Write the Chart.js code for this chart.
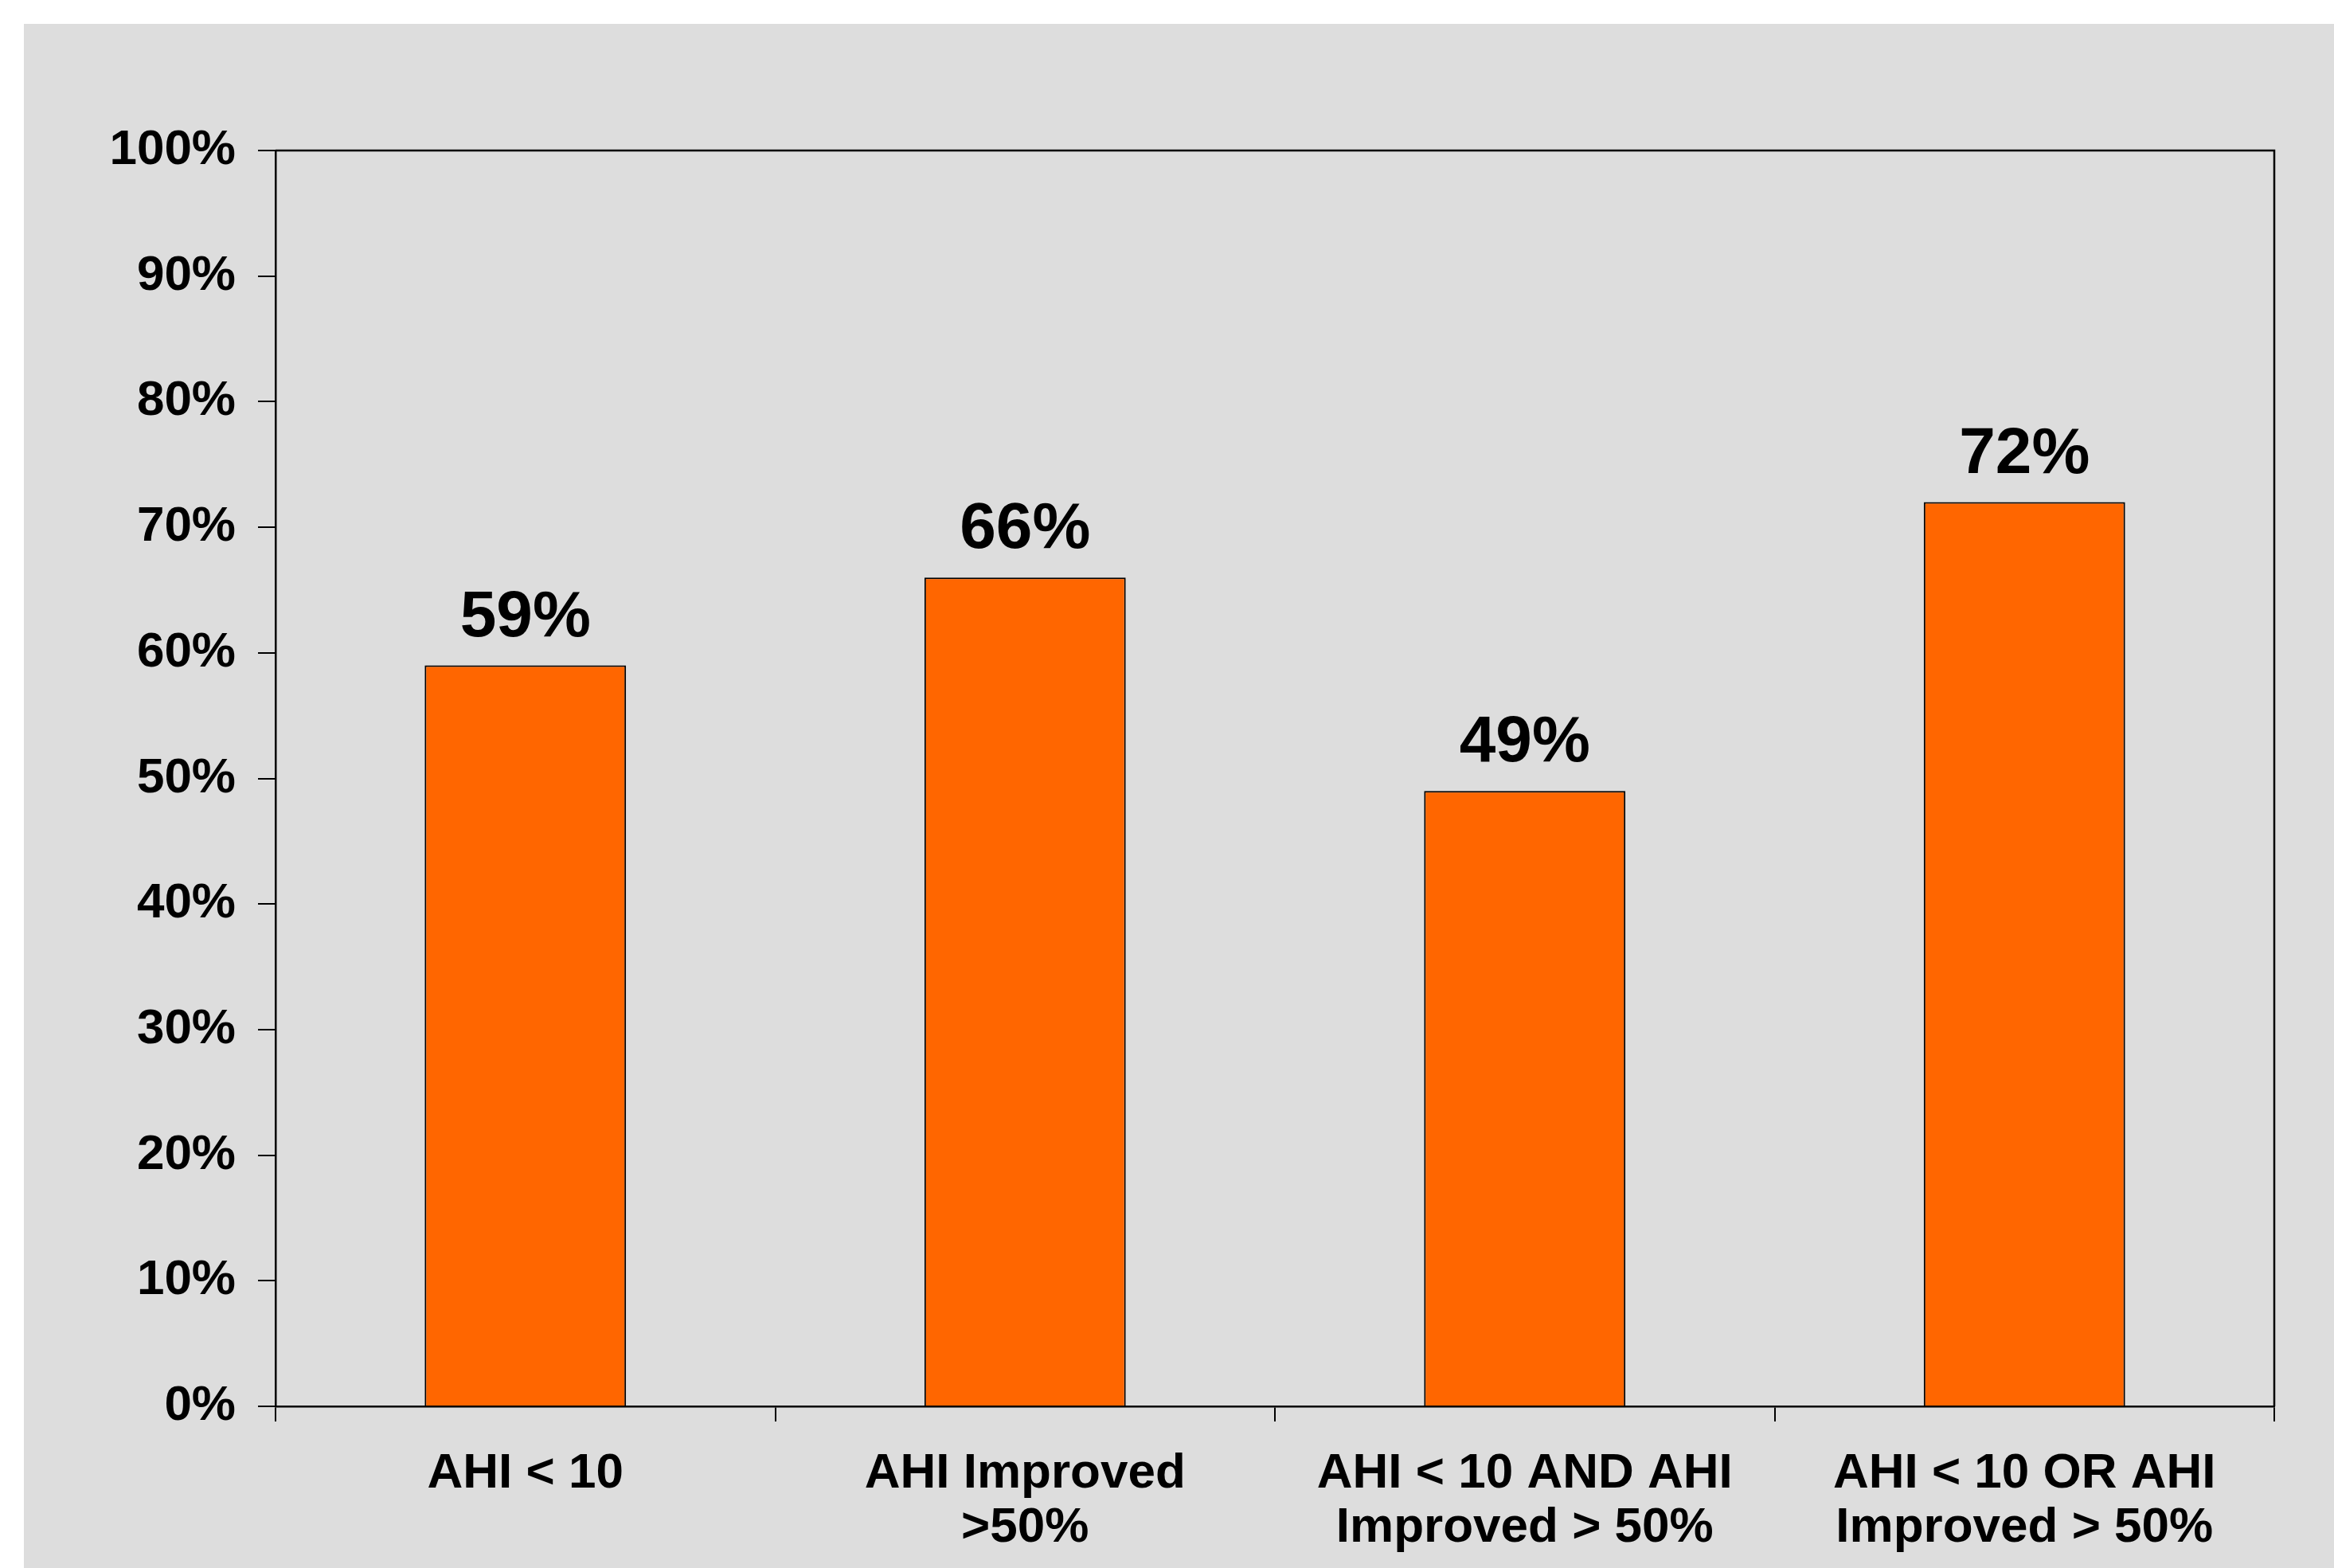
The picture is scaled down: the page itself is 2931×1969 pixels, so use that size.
<!DOCTYPE html>
<html>
<head>
<meta charset="utf-8">
<script src="https://cdn.jsdelivr.net/npm/chart.js@4/dist/chart.umd.min.js"></script>
<style>
  html, body { margin: 0; padding: 0; background: #ffffff; }
  #wrap {
    position: absolute;
    left: 30px;
    top: 30px;
    width: 2901px;
    height: 1939px;
    background: #dddddd;
  }
</style>
</head>
<body>
<div id="wrap"><canvas id="barChart" width="2901" height="1939"></canvas></div>
<script>
// data
const categories = [
    ['AHI < 10'],
    ['AHI Improved', '>50%'],
    ['AHI < 10 AND AHI', 'Improved > 50%'],
    ['AHI < 10 OR AHI', 'Improved > 50%']
];
const values = [59, 66, 49, 72];
const yTicks = [0, 10, 20, 30, 40, 50, 60, 70, 80, 90, 100];

const FONT = "'Liberation Sans', Arial, sans-serif";

// value labels above each bar
const valueLabels = {
    id: 'valueLabels',
    afterDatasetsDraw(chart) {
        const ctx = chart.ctx;
        const meta = chart.getDatasetMeta(0);
        ctx.save();
        ctx.font = 'bold 82px ' + FONT;
        ctx.fillStyle = '#000000';
        ctx.textAlign = 'center';
        ctx.textBaseline = 'alphabetic';
        meta.data.forEach((bar, i) => {
            ctx.fillText(values[i] + '%', bar.x, bar.y - 37);
        });
        ctx.restore();
    }
};

// box around the plot area (top and right sides)
const plotBox = {
    id: 'plotBox',
    afterDraw(chart) {
        const a = chart.chartArea;
        const ctx = chart.ctx;
        ctx.save();
        ctx.strokeStyle = '#000000';
        ctx.lineWidth = 2.5;
        ctx.beginPath();
        ctx.moveTo(a.left, a.top);
        ctx.lineTo(a.right, a.top);
        ctx.lineTo(a.right, a.bottom);
        ctx.stroke();
        ctx.restore();
    }
};

const ctx = document.getElementById('barChart').getContext('2d');
new Chart(ctx, {
    type: 'bar',
    data: {
        labels: categories,
        datasets: [{
            data: values,
            backgroundColor: '#ff6600',
            borderColor: '#000000',
            borderWidth: 2,
            categoryPercentage: 1.0,
            barPercentage: 0.403
        }]
    },
    options: {
        responsive: false,
        animation: false,
        layout: {
            padding: { top: 159, right: 75, bottom: 0, left: 0 }
        },
        plugins: {
            legend: { display: false },
            tooltip: { enabled: false }
        },
        scales: {
            x: {
                offset: true,
                afterFit(scale) { scale.height = 203; },
                grid: {
                    offset: true,
                    drawOnChartArea: false,
                    drawTicks: true,
                    tickLength: 19,
                    color: '#000000',
                    lineWidth: 2
                },
                border: { display: true, color: '#000000', width: 2.5 },
                ticks: {
                    color: '#000000',
                    padding: 32,
                    maxRotation: 0,
                    autoSkip: false,
                    font: { family: FONT, size: 62, weight: 'bold', lineHeight: 1.1 }
                }
            },
            y: {
                min: 0,
                max: 100,
                afterFit(scale) { scale.width = 316; },
                afterBuildTicks(scale) {
                    scale.ticks = yTicks.map(v => ({ value: v }));
                },
                grid: {
                    drawOnChartArea: false,
                    drawTicks: true,
                    tickLength: 22,
                    color: '#000000',
                    lineWidth: 2
                },
                border: { display: true, color: '#000000', width: 2.5 },
                ticks: {
                    color: '#000000',
                    padding: 28,
                    callback: (value) => value + '%',
                    font: { family: FONT, size: 62, weight: 'bold' }
                }
            }
        }
    },
    plugins: [valueLabels, plotBox]
});
</script>
</body>
</html>
